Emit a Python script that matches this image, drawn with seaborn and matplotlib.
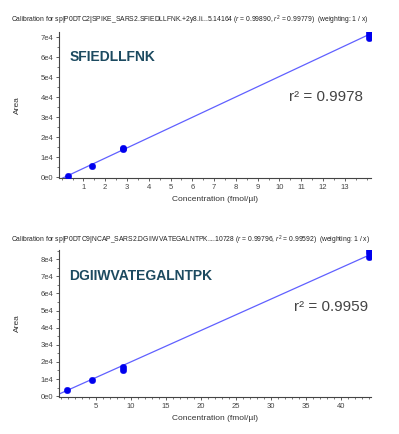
import numpy as np
import pandas as pd
import matplotlib
matplotlib.use("Agg")
import matplotlib.pyplot as plt
import seaborn as sns
from matplotlib.ticker import FuncFormatter, MultipleLocator, AutoMinorLocator

sns.set_theme(style="white")
plt.rcParams['font.family'] = ['Liberation Sans', 'DejaVu Sans']
plt.rcParams['mathtext.fontset'] = 'custom'
plt.rcParams['mathtext.it'] = 'Liberation Sans:italic'
plt.rcParams['mathtext.rm'] = 'Liberation Sans'

# ---- data: top panel (SFIEDLLFNK) ----
conc_top = [0.283, 1.41, 2.83, 2.83, 14.1, 14.1, 14.1]
area_top = [700, 5700, 14200, 14500, 72800, 71300, 69500]
title_top = ("Calibration for sp|P0DTC2|SPIKE_SARS2.SFIEDLLFNK.+2y8.li...5.14164 "
             "($\\mathit{r}$ = 0.99890, $\\mathit{r}^2$ = 0.99779)  (weighting: 1 / x)")
peptide_top = "SFIEDLLFNK"
r2_top = "r² = 0.9978"
xticks_top = list(range(1, 14))

# ---- data: bottom panel (DGIIWVATEGALNTPK) ----
conc_bot = [0.88, 4.4, 8.8, 8.8, 44.0, 44.0, 44.0]
area_bot = [3700, 9600, 17200, 15000, 85400, 83600, 81500]
title_bot = ("Calibration for sp|P0DTC9|NCAP_SARS2.DGIIWVATEGALNTPK....10728 "
             "($\\mathit{r}$ = 0.99796, $\\mathit{r}^2$ = 0.99592)  (weighting: 1 / x)")
peptide_bot = "DGIIWVATEGALNTPK"
r2_bot = "r² = 0.9959"
xticks_bot = [5, 10, 15, 20, 25, 30, 35, 40]

W, H = 399, 434
fig = plt.figure(figsize=(W / 100, H / 100), dpi=100)

def fx(px):
    return px / W

def fy(py):
    return 1 - py / H

def yfmt(v, pos):
    if abs(v) < 1:
        return "0e0"
    return f"{int(round(v / 1e4))}e4"

def panel(rect, conc, area, title, title_y, pep, pep_xy, r2, r2_xy,
          xlim, ylim, xticks, xminor, ymax_tick):
    ax = fig.add_axes(rect)
    df = pd.DataFrame({"conc": conc, "area": area})
    # weighted (1/x) linear fit
    x = np.array(conc, float)
    y = np.array(area, float)
    w = 1.0 / x
    slope, intercept = np.polyfit(x, y, 1, w=np.sqrt(w))
    xs = np.array([xlim[0], x.max()])
    fit = pd.DataFrame({"conc": xs, "area": slope * xs + intercept})
    sns.lineplot(data=fit, x="conc", y="area", ax=ax, color="#6060ff",
                 linewidth=0.9, zorder=2)
    sns.scatterplot(data=df, x="conc", y="area", ax=ax, color="#0000ee",
                    s=22, edgecolor="#0000ee", linewidth=0.3, zorder=3)
    ax.set_xlim(*xlim)
    ax.set_ylim(*ylim)
    ax.set_xticks(xticks)
    ax.xaxis.set_minor_locator(MultipleLocator(xminor))
    ax.set_yticks(np.arange(0, ymax_tick + 1, 10000))
    ax.yaxis.set_minor_locator(AutoMinorLocator(2))
    ax.yaxis.set_major_formatter(FuncFormatter(yfmt))
    for s in ["top", "right"]:
        ax.spines[s].set_visible(False)
    for s in ["left", "bottom"]:
        ax.spines[s].set_color("#444444")
        ax.spines[s].set_linewidth(0.8)
    ax.tick_params(axis="both", which="major", direction="out", length=2.5,
                   width=0.6, colors="#444444", labelsize=5.5, pad=1.5,
                   left=True, bottom=True)
    ax.tick_params(axis="both", which="minor", direction="out", length=1.5,
                   width=0.5, colors="#444444", left=True, bottom=True)
    ax.set_xlabel("Concentration (fmol/µl)", fontsize=6, color="#333333", labelpad=4)
    ax.set_ylabel("Area", fontsize=6, color="#333333", labelpad=14)
    ax.grid(False)
    fig.text(fx(11), fy(title_y), title, fontsize=4.85, color="#222222",
             ha="left", va="center")
    fig.text(fx(pep_xy[0]), fy(pep_xy[1]), pep, fontsize=10, fontweight="bold",
             color="#1c4a60", ha="left", va="center")
    fig.text(fx(r2_xy[0]), fy(r2_xy[1]), r2, fontsize=11, color="#444444",
             ha="left", va="center")
    return ax

# top axes: left 59, right 371, top 32, bottom 178 (px)
panel([fx(59), fy(178), fx(371 - 59), (178 - 32) / H],
      conc_top, area_top, title_top, 20, peptide_top, (70, 57), r2_top, (289, 97),
      (-0.12, 14.2), (-500, 72700), xticks_top, 0.5, 70000)

# bottom axes: left 59, right 371, top 250, bottom 397 (px)
panel([fx(59), fy(397), fx(371 - 59), (397 - 250) / H],
      conc_bot, area_bot, title_bot, 240, peptide_bot, (69, 276), r2_bot, (294, 307),
      (-0.3, 44.3), (-500, 85400), xticks_bot, 1, 80000)

fig.savefig("out.png", dpi=100)
